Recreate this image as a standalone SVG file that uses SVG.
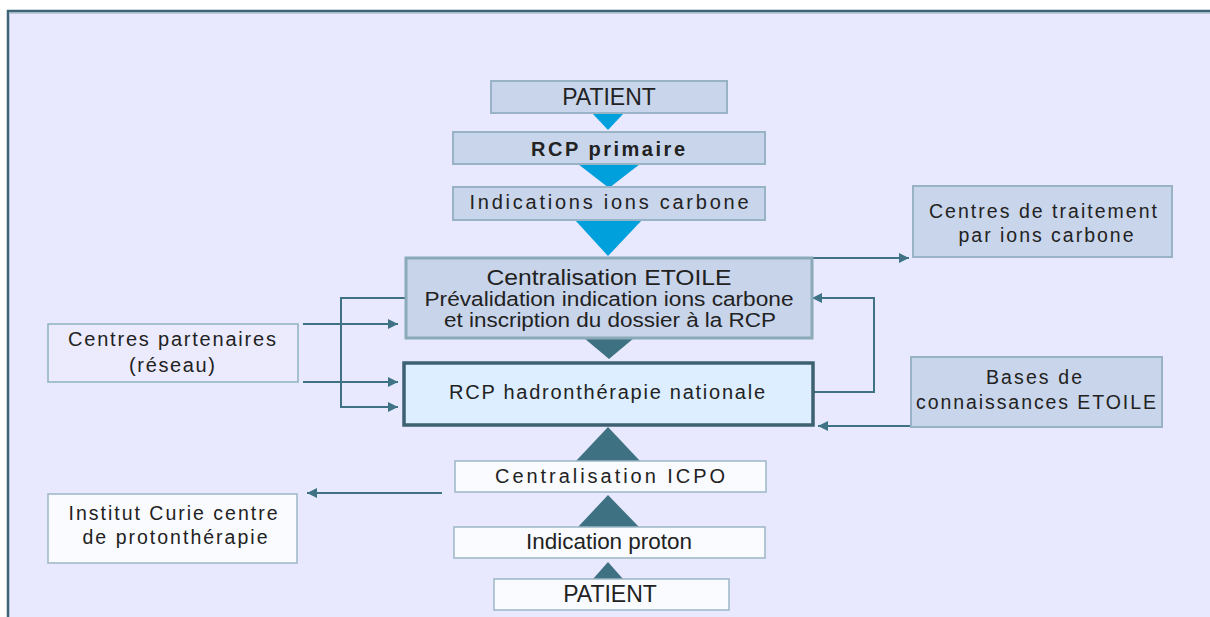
<svg xmlns="http://www.w3.org/2000/svg" width="1210" height="617" viewBox="0 0 1210 617">
<defs>
<marker id="ah" viewBox="0 0 10 10" refX="10" refY="5" markerWidth="11" markerHeight="10" markerUnits="userSpaceOnUse" orient="auto">
<path d="M0,0 L10,5 L0,10 z" fill="#3E7284"/>
</marker>
<style>
text{font-family:"Liberation Sans",Arial,sans-serif;fill:#222;text-anchor:middle}
.blue{fill:#C9D5EA;stroke:#98B3C6;stroke-width:2}
.white{fill:#FAFBFF;stroke:#9DB7C6;stroke-width:1.5}
.lav{fill:#EBEBFD;stroke:#8FB2BF;stroke-width:1.5}
.tb{fill:#00A0DC}
.td{fill:#3E7283}
.conn{fill:none;stroke:#3E7284;stroke-width:2;marker-end:url(#ah)}
</style>
</defs>
<rect x="0" y="0" width="1210" height="617" fill="#FFFFFF"/>
<rect x="8" y="11" width="1210" height="620" fill="#E8E8FE" stroke="#3E6575" stroke-width="2.5"/>
<line x1="10" y1="13" x2="1210" y2="13" stroke="#8FA9B8" stroke-width="1"/>

<g id="connectors">
<path class="conn" d="M811,258 H909"/>
<path class="conn" d="M813,392 H874 V298 H812"/>
<path class="conn" d="M911,426 H818"/>
<path class="conn" d="M303,324 H398"/>
<path class="conn" d="M303,382 H398"/>
<path class="conn" d="M406,298 H341 V407 H398"/>
<path class="conn" d="M442,493 H307"/>
<polygon class="tb" points="592,113 624,113 608,130"/>
<polygon class="tb" points="578,164 640,164 609,188"/>
<polygon class="tb" points="575,220 642,220 608,256"/>
<polygon class="td" points="584,338 634,338 609,359"/>
<polygon class="td" points="576,461 640,461 608,427"/>
<polygon class="td" points="578,527 639,527 608,495"/>
<polygon class="td" points="593,579 623,579 608,562"/>
</g>

<g id="patient-top">
<rect class="blue" x="491" y="81" width="236" height="32"/>
<text x="609" y="105" font-size="23" fill="#333">PATIENT</text>
</g>
<g id="rcp-primaire">
<rect class="blue" x="453" y="132" width="312" height="32"/>
<text x="608" y="156" font-size="20" font-weight="bold" textLength="154" lengthAdjust="spacing">RCP primaire</text>
</g>
<g id="indications">
<rect class="blue" x="453" y="187" width="312" height="33"/>
<text x="609" y="209" font-size="20" textLength="279" lengthAdjust="spacing">Indications ions carbone</text>
</g>
<g id="etoile">
<rect x="406" y="258" width="406" height="80" fill="#C8D4EA" stroke="#8AAAB8" stroke-width="3"/>
<text x="609" y="285" font-size="22" textLength="245" lengthAdjust="spacingAndGlyphs">Centralisation ETOILE</text>
<text x="609" y="306" font-size="20" textLength="369" lengthAdjust="spacingAndGlyphs">Prévalidation indication ions carbone</text>
<text x="610" y="327" font-size="20" textLength="332" lengthAdjust="spacingAndGlyphs">et inscription du dossier à la RCP</text>
</g>
<g id="rcp-nationale">
<rect x="404" y="363" width="409" height="62" fill="#DCEEFF" stroke="#3D6170" stroke-width="3.5"/>
<text x="607" y="399" font-size="20" fill="#1a1a1a" textLength="316" lengthAdjust="spacing">RCP hadronthérapie nationale</text>
</g>
<g id="centres-traitement">
<rect class="blue" x="913" y="186" width="259" height="71"/>
<text x="1043" y="218" font-size="19.5" textLength="228" lengthAdjust="spacing">Centres de traitement</text>
<text x="1046" y="242" font-size="19.5" textLength="175" lengthAdjust="spacing">par ions carbone</text>
</g>
<g id="partenaires">
<rect class="lav" x="48" y="324" width="250" height="58"/>
<text x="172" y="346" font-size="20" textLength="208" lengthAdjust="spacing">Centres partenaires</text>
<text x="172" y="372" font-size="20" textLength="86" lengthAdjust="spacing">(réseau)</text>
</g>
<g id="bases">
<rect class="blue" x="911" y="357" width="251" height="70"/>
<text x="1034" y="384" font-size="19.5" textLength="96" lengthAdjust="spacing">Bases de</text>
<text x="1036" y="409" font-size="19.5" textLength="240" lengthAdjust="spacing">connaissances ETOILE</text>
</g>
<g id="icpo">
<rect class="white" x="455" y="461" width="311" height="31"/>
<text x="610" y="483" font-size="20" textLength="230" lengthAdjust="spacing">Centralisation ICPO</text>
</g>
<g id="institut-curie">
<rect class="white" x="48" y="494" width="249" height="69"/>
<text x="173" y="520" font-size="19.5" textLength="209" lengthAdjust="spacing">Institut Curie centre</text>
<text x="175" y="544" font-size="19.5" textLength="185" lengthAdjust="spacing">de protonthérapie</text>
</g>
<g id="indication-proton">
<rect class="white" x="454" y="527" width="311" height="31"/>
<text x="609" y="549" font-size="22" textLength="166" lengthAdjust="spacingAndGlyphs">Indication proton</text>
</g>
<g id="patient-bottom">
<rect class="white" x="494" y="579" width="235" height="31"/>
<text x="610" y="602" font-size="23" fill="#333">PATIENT</text>
</g>
</svg>
